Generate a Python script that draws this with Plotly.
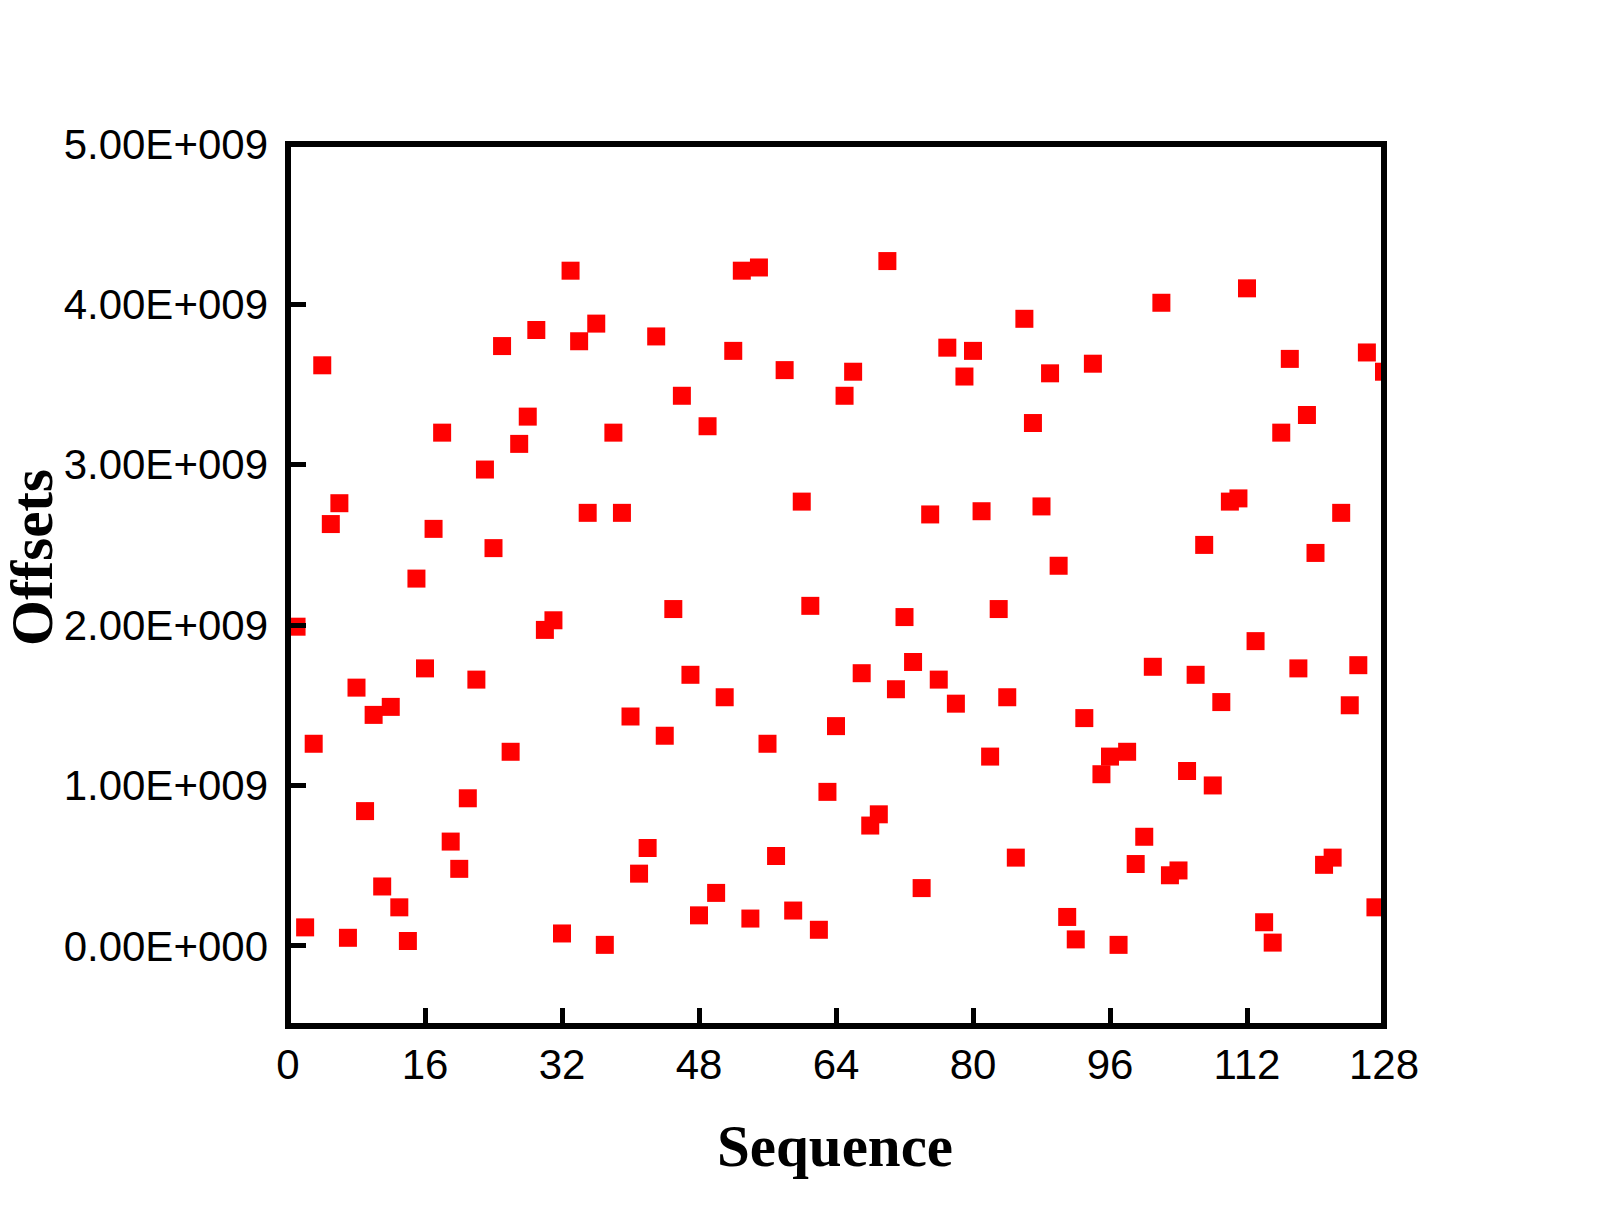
import plotly.graph_objects as go

sequence = list(range(1, 129))
offsets_e9 = [
    1.99, 0.115, 1.26, 3.62, 2.63, 2.76, 0.05, 1.61, 0.84, 1.44,
    0.37, 1.49, 0.24, 0.03, 2.29, 1.73, 2.60, 3.20, 0.65, 0.48,
    0.92, 1.66, 2.97, 2.48, 3.74, 1.21, 3.13, 3.30, 3.84, 1.97,
    2.03, 0.077, 4.21, 3.77, 2.70, 3.88, 0.006, 3.20, 2.70, 1.43,
    0.45, 0.61, 3.80, 1.31, 2.10, 3.43, 1.69, 0.19, 3.24, 0.33,
    1.55, 3.71, 4.21, 0.17, 4.23, 1.26, 0.56, 3.59, 0.22, 2.77,
    2.12, 0.10, 0.96, 1.37, 3.43, 3.58, 1.70, 0.75, 0.82, 4.27,
    1.60, 2.05, 1.77, 0.36, 2.69, 1.66, 3.73, 1.51, 3.55, 3.71,
    2.71, 1.18, 2.10, 1.55, 0.55, 3.91, 3.26, 2.74, 3.57, 2.37,
    0.18, 0.04, 1.42, 3.63, 1.07, 1.18, 0.006, 1.21, 0.51, 0.68,
    1.74, 4.01, 0.44, 0.47, 1.09, 1.69, 2.50, 1.00, 1.52, 2.77,
    2.79, 4.10, 1.90, 0.147, 0.02, 3.20, 3.66, 1.73, 3.31, 2.45,
    0.505, 0.55, 2.70, 1.50, 1.75, 3.70, 0.24, 3.58,
]
offsets = [v * 1e9 for v in offsets_e9]

x_ticks = [0, 16, 32, 48, 64, 80, 96, 112, 128]
y_ticks = [0, 1e9, 2e9, 3e9, 4e9, 5e9]
y_tick_labels = ["0.00E+000", "1.00E+009", "2.00E+009", "3.00E+009", "4.00E+009", "5.00E+009"]

fig = go.Figure()
fig.add_trace(go.Scatter(
    x=sequence, y=offsets, mode="markers",
    marker=dict(symbol="square", size=18, color="#FF0000", line=dict(width=0)),
    showlegend=False,
))

axis_common = dict(
    showgrid=False, zeroline=False, showline=False,
    ticks="inside", ticklen=18, tickwidth=5, tickcolor="black",
    tickfont=dict(family="Liberation Sans, Arial", size=42, color="black"),
)

title_font = dict(family="Liberation Serif, Times New Roman", size=59, color="black")

fig.update_layout(
    width=1609, height=1232,
    margin=dict(l=288, r=225, t=144, b=206),
    paper_bgcolor="white", plot_bgcolor="white",
    xaxis=dict(
        range=[0, 128], tickvals=x_ticks, ticktext=[str(t) for t in x_ticks],
        ticklabelstandoff=10,
        **axis_common,
    ),
    yaxis=dict(
        range=[-0.5e9, 5e9], tickvals=y_ticks, ticktext=y_tick_labels,
        ticklabelstandoff=19,
        **axis_common,
    ),
    shapes=[dict(
        type="rect", xref="paper", yref="paper", x0=0, x1=1, y0=0, y1=1,
        line=dict(color="black", width=6), fillcolor="rgba(0,0,0,0)", layer="above",
    )],
    annotations=[
        dict(text="<b>Sequence</b>", xref="paper", yref="paper", x=0.499, y=-0.136,
             xanchor="center", yanchor="middle", showarrow=False, font=title_font),
        dict(text="<b>Offsets</b>", xref="paper", yref="paper", x=-0.2336, y=0.5317,
             xanchor="center", yanchor="middle", showarrow=False, textangle=-90, font=title_font),
    ],
)

fig.write_html("out.html")
